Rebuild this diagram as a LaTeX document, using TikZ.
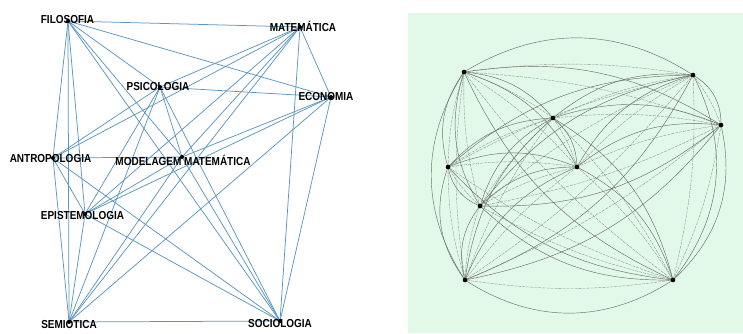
\documentclass[tikz,border=0pt]{standalone}
\usepackage{fontspec}
\setmainfont{Liberation Sans}
\newfontfamily\labfont{Liberation Sans}[FakeStretch=0.86]
\definecolor{edgeblue}{RGB}{92,150,192}
\definecolor{panelgreen}{RGB}{226,249,232}
\definecolor{curvegray}{RGB}{105,110,105}
\begin{document}
\begin{tikzpicture}[x=1pt,y=-1pt,
  dot/.style={circle,fill=black,inner sep=0pt,minimum size=4pt},
  rdot/.style={circle,fill=black,inner sep=0pt,minimum size=4.6pt},
  lab/.style={inner sep=0pt,font=\labfont\fontsize{11.6}{11.6}\selectfont\bfseries},
  ledge/.style={draw=edgeblue,line width=0.75pt},
  redge/.style={draw=curvegray,line width=0.45pt},
  rdash/.style={draw=curvegray,line width=0.35pt,dash pattern=on 3pt off 1pt,bend left=8,opacity=0.75}]
\useasboundingbox (0,0) rectangle (743,333);
% ---------- left panel ----------
\coordinate (fi) at (68,21);
\coordinate (ma) at (300,27);
\coordinate (ps) at (160,87);
\coordinate (ec) at (331,97);
\coordinate (an) at (53,158);
\coordinate (mo) at (182,157);
\coordinate (ep) at (85,214);
\coordinate (se) at (69,322);
\coordinate (so) at (280,321);
\foreach \a/\b in {fi/ma,fi/ec,fi/ps,fi/mo,fi/so,fi/an,fi/ep,fi/se,
  ma/ec,ma/ps,ma/an,ma/mo,ma/ep,ma/se,ma/so,
  ec/ps,ec/mo,ec/ep,ec/se,ec/so,
  ps/an,ps/mo,ps/ep,ps/se,ps/so,
  an/mo,an/ep,an/se,an/so,
  ep/mo,ep/se,ep/so,mo/se,mo/so,se/so}
  \draw[ledge] (\a) -- (\b);
\node[lab] (lfi) at (67.5,20) {FILOSOFIA};
\node[lab] (lma) at (303,26) {MATEMÁTICA};
\node[lab] (lec) at (326,97) {ECONOMIA};
\node[lab] (lps) at (158,87) {PSICOLOGIA};
\node[lab] (lan) at (50.5,159) {ANTROPOLOGIA};
\node[lab] (lmo) at (183,160) {MODELAGEM MATEMÁTICA};
\node[lab] (lep) at (82.5,215) {EPISTEMOLOGIA};
\node[lab] (lse) at (69,324) {SEMIOTICA};
\node[lab] (lso) at (280,323) {SOCIOLOGIA};
\foreach \n in {fi,ma,ps,ec,an,mo,ep,se,so}
  \node[dot] (d\n) at (\n) {};
% ---------- right panel ----------
\fill[panelgreen] (408,13) rectangle (743,333);
\coordinate (rfi) at (464,72);
\coordinate (rma) at (693,75);
\coordinate (rps) at (553,118);
\coordinate (rec) at (721,125);
\coordinate (ran) at (448,167);
\coordinate (rmo) at (577,167);
\coordinate (rep) at (480,206);
\coordinate (rse) at (465,280);
\coordinate (rso) at (673,280);
\foreach \a/\b/\t in {fi/ma/32,fi/ec/20,fi/ps/22,fi/mo/22,so/fi/20,an/fi/26,ep/fi/24,se/fi/33,
  ma/ec/30,ps/ma/22,an/ma/20,mo/ma/22,ep/ma/20,ma/se/20,ma/so/33,
  ps/ec/20,mo/ec/22,ec/ep/20,ec/se/20,ec/so/30,
  an/ps/22,ps/mo/24,ep/ps/22,se/ps/20,ps/so/22,
  an/mo/22,ep/an/28,se/an/28,so/an/20,
  ep/mo/22,se/ep/26,so/ep/22,se/mo/22,mo/so/22,so/se/33}
{
  \draw[redge,bend left=\t] (r\a) to (r\b);
  \draw[rdash] (r\a) to (r\b);
}
\foreach \n in {fi,ma,ps,ec,an,mo,ep,se,so}
  \node[rdot] (rd\n) at (r\n) {};
\end{tikzpicture}
\end{document}
